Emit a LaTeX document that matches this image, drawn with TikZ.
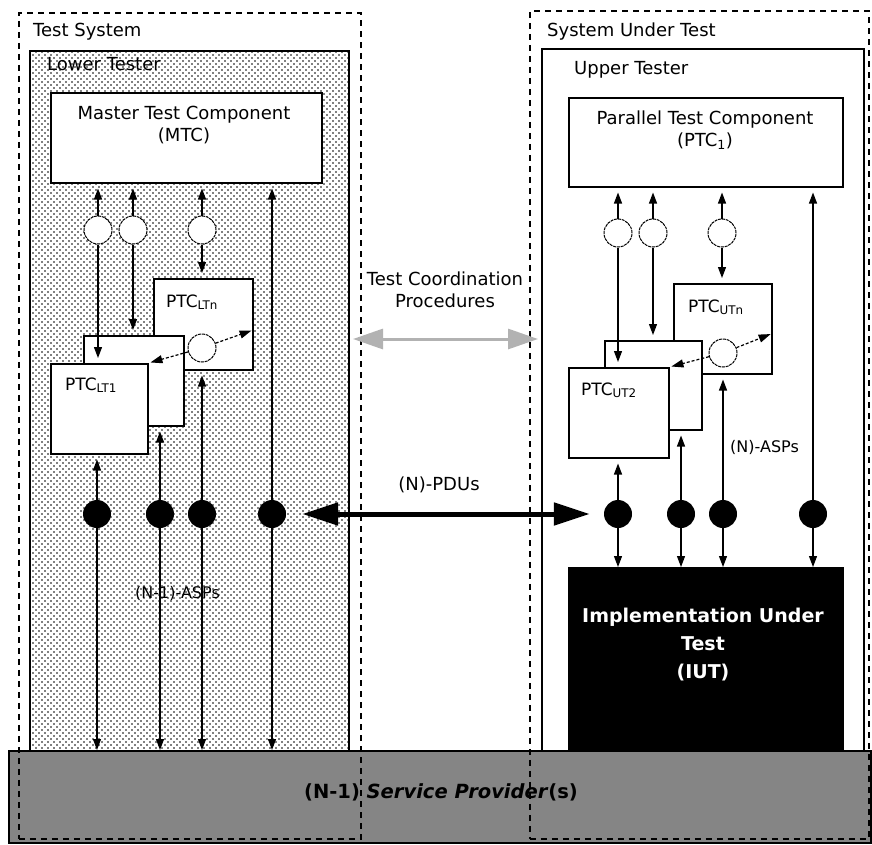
\documentclass[tikz,border=0pt]{standalone}
\usepackage{fontspec}
\setmainfont{DejaVu Sans}
\usetikzlibrary{arrows.meta,patterns,calc}
\pgfdeclarepatternformonly{sparsedots}{\pgfqpoint{-1pt}{-1pt}}{\pgfqpoint{5pt}{5pt}}{\pgfqpoint{6pt}{6pt}}{%
  \pgfpathcircle{\pgfqpoint{0pt}{0pt}}{0.85pt}%
  \pgfpathcircle{\pgfqpoint{3pt}{3pt}}{0.85pt}%
  \pgfusepath{fill}}
\begin{document}
\begin{tikzpicture}[x=1pt,y=-1pt,
  sysbox/.style={draw, dash pattern=on 6pt off 5pt, line width=1.8pt, anchor=north west, inner sep=0},
  tester/.style={draw, line width=1.6pt, anchor=north west, inner sep=0},
  comp/.style={draw, line width=1.5pt, fill=white, anchor=north west, inner sep=0},
  ring/.style={circle, draw, line width=1pt, dash pattern=on 3pt off 0.8pt, fill=white, minimum size=28pt, inner sep=0},
  bdot/.style={circle, fill=black, minimum size=28pt, inner sep=0},
  arr/.style={line width=1.2pt, -{Triangle[length=11pt,width=8pt]}, shorten >=5pt},
  arrsp/.style={line width=1.2pt, -{Triangle[length=11pt,width=8pt]}, shorten >=0pt},
  darr/.style={line width=1.2pt, densely dashed, -{Triangle[length=12pt,width=8pt]}, shorten >=2pt},
  txt/.style={font=\fontsize{18}{22}\selectfont, inner sep=0, align=center},
  ptc/.style={font=\fontsize{17}{20}\selectfont, inner sep=0, anchor=base west},
  asp/.style={font=\fontsize{16}{19}\selectfont, inner sep=0, anchor=base west},
  bigarr/.style={line width=5pt, {Triangle[length=36pt,width=22pt]}-{Triangle[length=36pt,width=22pt]}},
  coordarr/.style={line width=3pt, draw=black!30, {Triangle[length=30pt,width=20pt]}-{Triangle[length=30pt,width=20pt]}}
]
\useasboundingbox (0,0) rectangle (872,844);

% testers
\node[tester, pattern=sparsedots, minimum width=319pt, minimum height=700pt] (lt) at (29,50) {};
\node[tester, fill=white, minimum width=322pt, minimum height=702pt] (ut) at (541,48) {};

% service provider
\node[draw, line width=1.5pt, fill=black!48, anchor=north west, inner sep=0, minimum width=862pt, minimum height=92pt] (sp) at (8,750) {};

% system boxes
\node[sysbox, minimum width=342pt, minimum height=826pt] (tsys) at (18,12) {};
\node[sysbox, minimum width=339pt, minimum height=828pt] (sut) at (529,10) {};

\node[font=\fontsize{19.5}{22}\selectfont\bfseries, inner sep=0] (sptxt) at (441,792) {(N-1) \textit{Service Provider}(s)};

% headings
\node[txt, anchor=base west] (tstxt) at (33,36) {Test System};
\node[txt, anchor=base west] (lttxt) at (47,70) {Lower Tester};
\node[txt, anchor=base west] (suttxt) at (547,36) {System Under Test};
\node[txt, anchor=base west] (uttxt) at (574,74) {Upper Tester};

% components
\node[comp, minimum width=271pt, minimum height=90pt] (mtc) at (50,92) {};
\node[txt] (mtctxt) at (184,125) {Master Test Component\\(MTC)};
\node[comp, minimum width=274pt, minimum height=89pt] (ptc1) at (568,97) {};
\node[txt] (ptc1txt) at (705,130) {Parallel Test Component\\(PTC\textsubscript{1})};

\node[comp, minimum width=99pt, minimum height=91pt] (ltn) at (153,278) {};
\node[comp, minimum width=100pt, minimum height=90pt] (ltb) at (83,335) {};
\node[comp, minimum width=97pt, minimum height=90pt] (lt1) at (50,363) {};
\node[ptc] (ltntxt) at (166,307) {PTC\textsubscript{LTn}};
\node[ptc] (lt1txt) at (65,390) {PTC\textsubscript{LT1}};

\node[comp, minimum width=98pt, minimum height=90pt] (utn) at (673,283) {};
\node[comp, minimum width=97pt, minimum height=89pt] (utb) at (604,340) {};
\node[comp, minimum width=100pt, minimum height=90pt] (ut2) at (568,367) {};
\node[ptc] (utntxt) at (688,312) {PTC\textsubscript{UTn}};
\node[ptc] (ut2txt) at (581,395) {PTC\textsubscript{UT2}};

\node[draw, fill=black, anchor=north west, inner sep=0, minimum width=275pt, minimum height=183pt] (iut) at (568,567) {};
\node[font=\fontsize{19}{28}\selectfont\bfseries, text=white, align=center, inner sep=0] (iuttxt) at (703,645) {Implementation Under\\Test\\(IUT)};

% rings and dots
\node[ring] (oc1) at (98,230) {};
\node[ring] (oc2) at (133,230) {};
\node[ring] (oc3) at (202,230) {};
\node[ring] (ocn) at (202,348) {};
\node[ring] (uc1) at (618,233) {};
\node[ring] (uc2) at (653,233) {};
\node[ring] (uc3) at (722,233) {};
\node[ring] (ucn) at (723,353) {};

\node[bdot] (bd1) at (97,514) {};
\node[bdot] (bd2) at (160,514) {};
\node[bdot] (bd3) at (202,514) {};
\node[bdot] (bd4) at (272,514) {};
\node[bdot] (ud1) at (618,514) {};
\node[bdot] (ud2) at (681,514) {};
\node[bdot] (ud3) at (723,514) {};
\node[bdot] (ud4) at (813,514) {};

% left connectors
\draw[arr] (oc1) -- (mtc.south -| oc1);
\draw[arr] (oc2) -- (mtc.south -| oc2);
\draw[arr] (oc3) -- (mtc.south -| oc3);
\draw[arr] (oc1) -- (lt1.north -| oc1);
\draw[arr] (oc2) -- (ltb.north -| oc2);
\draw[arr] (oc3) -- (ltn.north -| oc3);
\draw[arr] (bd4) -- (mtc.south -| bd4);
\draw[arr] (bd1) -- (lt1.south -| bd1);
\draw[arr] (bd2) -- (ltb.south -| bd2);
\draw[arr] (bd3) -- (ltn.south -| bd3);
\draw[arrsp] (bd1) -- (sp.north -| bd1);
\draw[arrsp] (bd2) -- (sp.north -| bd2);
\draw[arrsp] (bd3) -- (sp.north -| bd3);
\draw[arrsp] (bd4) -- (sp.north -| bd4);
\draw[darr] (ocn) -- ($(ltn.north east)!0.56!(ltn.south east)$);
\draw[darr] (ocn) -- (lt1.north east);

% right connectors
\draw[arr] (uc1) -- (ptc1.south -| uc1);
\draw[arr] (uc2) -- (ptc1.south -| uc2);
\draw[arr] (uc3) -- (ptc1.south -| uc3);
\draw[arr] (ud4) -- (ptc1.south -| ud4);
\draw[arr] (uc1) -- (ut2.north -| uc1);
\draw[arr] (uc2) -- (utb.north -| uc2);
\draw[arr] (uc3) -- (utn.north -| uc3);
\draw[arr] (ud1) -- (ut2.south -| ud1);
\draw[arr] (ud2) -- (utb.south -| ud2);
\draw[arr] (ud3) -- (utn.south -| ud3);
\draw[arrsp] (ud1) -- (iut.north -| ud1);
\draw[arrsp] (ud2) -- (iut.north -| ud2);
\draw[arrsp] (ud3) -- (iut.north -| ud3);
\draw[arrsp] (ud4) -- (iut.north -| ud4);
\draw[darr] (ucn) -- ($(utn.north east)!0.55!(utn.south east)$);
\draw[darr] (ucn) -- (ut2.north east);

% labels
\node[asp] (nasp1) at (135,598) {(N-1)-ASPs};
\node[asp] (nasp) at (730,452) {(N)-ASPs};
\node[txt, anchor=base] (pdutxt) at (439,490) {(N)-PDUs};
\node[txt] (tcptxt) at (445,290) {Test Coordination\\Procedures};

% big arrows
\draw[bigarr, shorten <=16pt, shorten >=14pt] (bd4) -- (ud1);
\coordinate (tcl) at (353,339);
\coordinate (tcr) at (538,339);
\draw[coordarr] (tcl) -- (tcr);
\end{tikzpicture}
\end{document}
